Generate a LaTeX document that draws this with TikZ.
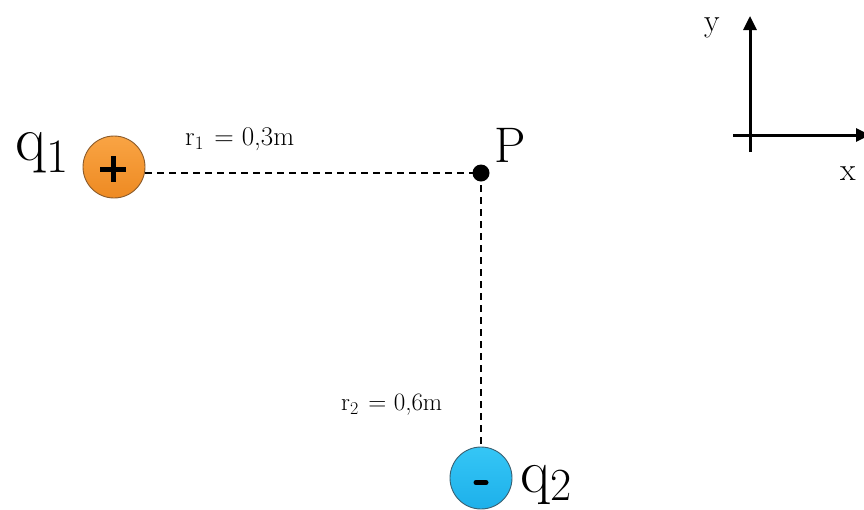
\documentclass[tikz,border=0pt]{standalone}
\usetikzlibrary{arrows.meta}
\definecolor{orangeA}{HTML}{F9A444}
\definecolor{orangeB}{HTML}{EE8A22}
\definecolor{orangeE}{HTML}{8A5A2A}
\definecolor{blueA}{HTML}{35C6F6}
\definecolor{blueB}{HTML}{1DB0EA}
\definecolor{blueE}{HTML}{3A5F70}
\newcommand\fsz[1]{\fontsize{#1}{#1}\selectfont}
\newcommand\rlab[4]{\fsz{#3}r\raisebox{-0.18em}{\fsz{#4}#1}\hspace{0.4em}=\hspace{0.3em}#2}
\tikzset{
  charge/.style={circle, minimum size=62pt, inner sep=0pt, line width=0.9pt},
  dashline/.style={line width=1.8pt, dash pattern=on 7pt off 5pt},
  axis/.style={line width=3pt, -{Triangle[length=14pt,width=13pt]}},
  lbl/.style={inner sep=0pt, anchor=base west}
}
\begin{document}
\begin{tikzpicture}[x=1pt,y=-1pt]
\useasboundingbox (0,0) rectangle (864,509);
% charges
\node[charge, draw=orangeE, top color=orangeA, bottom color=orangeB] (q1) at (114,167) {};
\node[charge, draw=blueE, top color=blueA, bottom color=blueB] (q2) at (481,478) {};
\draw[line width=5pt] (100,169) -- (126,169) (113,156) -- (113,182);
\draw[line width=5pt, line cap=round] (476,482.5) -- (486,482.5);
% point P
\node[circle, fill=black, minimum size=17pt, inner sep=0pt] (P) at (481,173) {};
% dashed distances
\draw[dashline] (P.center -| q1.east) -- (P.center);
\draw[dashline] (P.center) -- (q2.north);
% labels
\node[lbl] (lq1) at (15,160) {\fsz{64}q\raisebox{-0.19em}{\fsz{48}1}};
\node[lbl] (lq2) at (520,492) {\fsz{62}q\raisebox{-0.13em}{\fsz{46}2}};
\node[lbl] (lP) at (494,162) {\fsz{50}P};
\node[lbl] (lr1) at (185,145) {\rlab{1}{0,3m}{27}{19}};
\node[lbl] (lr2) at (341,410) {\rlab{2}{0,6m}{25}{18}};
% axes
\coordinate (O) at (750,135);
\coordinate (ybot) at (750,152);
\coordinate (ytop) at (750,16);
\coordinate (xleft) at (733,135);
\coordinate (xright) at (870,135);
\draw[axis] (ybot) -- (ytop);
\draw[axis] (xleft) -- (xright);
\node[lbl] (ly) at (704,31) {\fsz{32}y};
\node[lbl] (lx) at (840,180) {\fsz{32}x};
\end{tikzpicture}
\end{document}
